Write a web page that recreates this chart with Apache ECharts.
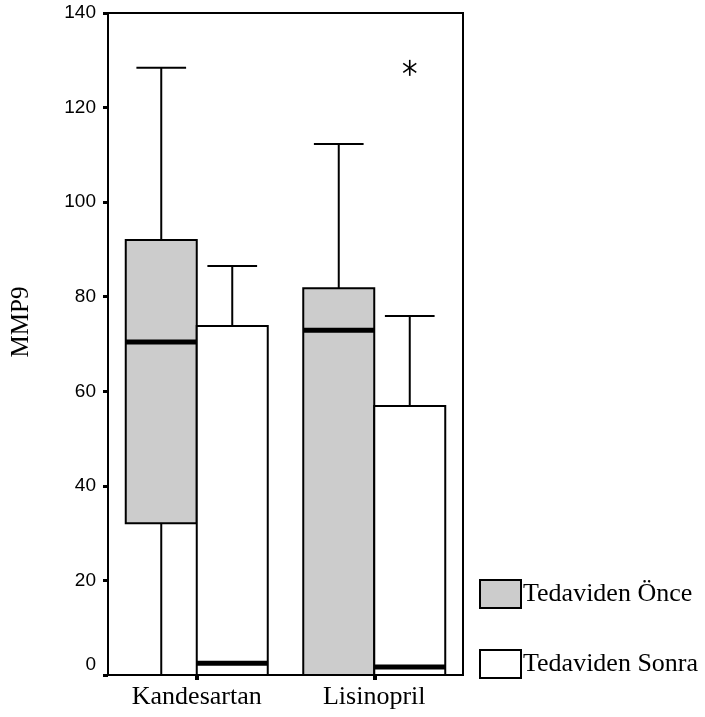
<!DOCTYPE html>
<html>
<head>
<meta charset="utf-8">
<script src="https://cdn.jsdelivr.net/npm/echarts@6/dist/echarts.min.js"></script>
<style>html,body{margin:0;padding:0;background:#fff;}#c{width:705px;height:717px;}</style>
</head>
<body>
<div id="c"></div>
<script>
// Data: [min, q1, median, q3, max]
var categories = ['Kandesartan', 'Lisinopril'];
var seriesNames = ['Tedaviden Önce', 'Tedaviden Sonra'];
var beforeStats = [[0, 32.1, 70.4, 92.0, 128.4], [0, 0, 72.9, 81.8, 112.3]];
var afterStats = [[0, 0, 2.5, 73.8, 86.5], [0, 0, 1.7, 56.9, 75.9]];
var outliersAfter = [[1, 128.4]];
var yTicks = [0, 20, 40, 60, 80, 100, 120, 140];

var chart = echarts.init(document.getElementById('c'), null, {renderer: 'canvas'});

function toItems(stats) {
  return stats.map(function (s, i) { return [i].concat(s); });
}

function makeBoxRender(side, fill) {
  return function (params, api) {
    var cat = api.value(0);
    var band = api.size([1, 0])[0];
    var w = band * 0.4;
    var cx = api.coord([cat, 0])[0] + side * w / 2;
    var yMin = api.coord([cat, api.value(1)])[1];
    var yQ1 = api.coord([cat, api.value(2)])[1];
    var yMed = api.coord([cat, api.value(3)])[1];
    var yQ3 = api.coord([cat, api.value(4)])[1];
    var yMax = api.coord([cat, api.value(5)])[1];
    var capW = w * 0.7;
    var x0 = cx - w / 2, x1 = cx + w / 2;
    var ls = {stroke: '#000', lineWidth: 2};
    var children = [];
    if (yMax < yQ3) {
      children.push({type: 'line', shape: {x1: cx, y1: yMax, x2: cx, y2: yQ3}, style: ls});
      children.push({type: 'line', shape: {x1: cx - capW / 2, y1: yMax, x2: cx + capW / 2, y2: yMax}, style: ls});
    }
    if (yMin > yQ1) {
      children.push({type: 'line', shape: {x1: cx, y1: yQ1, x2: cx, y2: yMin}, style: ls});
      children.push({type: 'line', shape: {x1: cx - capW / 2, y1: yMin, x2: cx + capW / 2, y2: yMin}, style: ls});
    }
    children.push({type: 'rect', shape: {x: x0, y: yQ3, width: w, height: yQ1 - yQ3},
      style: {fill: fill, stroke: '#000', lineWidth: 2}});
    children.push({type: 'line', shape: {x1: x0, y1: yMed, x2: x1, y2: yMed},
      style: {stroke: '#000', lineWidth: 5}});
    return {type: 'group', children: children};
  };
}

function starRender(params, api) {
  var cat = api.value(0);
  var band = api.size([1, 0])[0];
  var w = band * 0.4;
  var cx = api.coord([cat, 0])[0] + w / 2;
  var cy = api.coord([cat, api.value(1)])[1];
  var ls = {stroke: '#000', lineWidth: 1.6};
  return {type: 'group', children: [
    {type: 'line', shape: {x1: cx, y1: cy - 8, x2: cx, y2: cy + 8}, style: ls},
    {type: 'line', shape: {x1: cx - 6.5, y1: cy - 4.5, x2: cx + 6.5, y2: cy + 4.5}, style: ls},
    {type: 'line', shape: {x1: cx - 6.5, y1: cy + 4.5, x2: cx + 6.5, y2: cy - 4.5}, style: ls}
  ]};
}

var option = {
  animation: false,
  backgroundColor: '#fff',
  grid: {left: 108, right: 242, top: 13, bottom: 42, show: true, borderColor: '#000', borderWidth: 2, containLabel: false},
  legend: {
    orient: 'vertical', left: 479, top: 579, padding: 0, itemWidth: 41, itemHeight: 28, itemGap: 40,
    icon: 'rect',
    textStyle: {fontFamily: 'Liberation Serif', fontSize: 26, color: '#000', padding: [0, 0, 0, -3]},
    data: [
      {name: seriesNames[0], itemStyle: {color: '#cccccc', borderColor: '#000', borderWidth: 2}},
      {name: seriesNames[1], itemStyle: {color: '#ffffff', borderColor: '#000', borderWidth: 2}}
    ]
  },
  graphic: [{
    type: 'text', x: 21, y: 322, rotation: Math.PI / 2,
    style: {text: 'MMP9', textAlign: 'center', textVerticalAlign: 'middle', fontSize: 25, fontFamily: 'Liberation Serif', fill: '#000'}
  }],
  xAxis: {
    type: 'category', data: categories, boundaryGap: true,
    axisLine: {lineStyle: {color: '#000', width: 2}},
    axisTick: {show: true, alignWithLabel: true, length: 5, lineStyle: {color: '#000', width: 4}},
    axisLabel: {color: '#000', fontFamily: 'Liberation Serif', fontSize: 26, margin: 9},
    splitLine: {show: false}
  },
  yAxis: {
    type: 'value', min: 0, max: 140, interval: 20,
    axisLine: {show: true, lineStyle: {color: '#000', width: 2}},
    axisTick: {show: true, length: 5, lineStyle: {color: '#000', width: 3}},
    axisLabel: {
      color: '#000', fontFamily: 'Liberation Sans', fontSize: 19, margin: 12,
      formatter: function (v) { return yTicks.indexOf(v) >= 0 ? (v === 0 ? '{z|0}' : String(v)) : ''; },
      rich: {z: {fontFamily: 'Liberation Sans', fontSize: 19, color: '#000', padding: [0, 0, 20, 0]}}
    },
    splitLine: {show: false}
  },
  series: [
    {name: seriesNames[0], type: 'custom', renderItem: makeBoxRender(-1, '#cccccc'),
      itemStyle: {color: '#cccccc'}, encode: {x: 0, y: [1, 2, 3, 4, 5]}, data: toItems(beforeStats), z: 3},
    {name: seriesNames[1], type: 'custom', renderItem: makeBoxRender(1, '#ffffff'),
      itemStyle: {color: '#ffffff'}, encode: {x: 0, y: [1, 2, 3, 4, 5]}, data: toItems(afterStats), z: 3},
    {name: 'outlier', type: 'custom', renderItem: starRender,
      encode: {x: 0, y: 1}, data: outliersAfter, z: 4}
  ]
};
chart.setOption(option);
</script>
</body>
</html>
